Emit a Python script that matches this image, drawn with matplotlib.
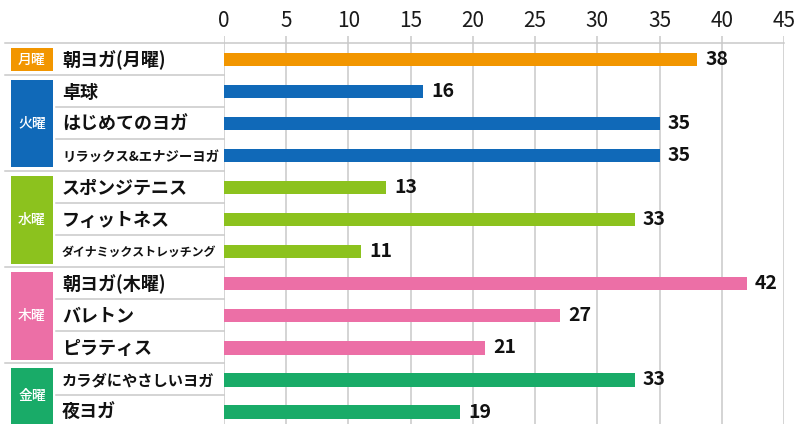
import matplotlib
matplotlib.use("Agg")
import matplotlib.pyplot as plt
import matplotlib.transforms as mtransforms
from matplotlib.patches import Rectangle
from matplotlib.lines import Line2D
import numpy as np

plt.rcParams['font.family'] = ['Noto Sans CJK JP', 'DejaVu Sans']

# ---- data ----
classes = ["朝ヨガ(月曜)", "卓球", "はじめてのヨガ", "リラックス&エナジーヨガ",
           "スポンジテニス", "フィットネス", "ダイナミックストレッチング",
           "朝ヨガ(木曜)", "バレトン", "ピラティス",
           "カラダにやさしいヨガ", "夜ヨガ"]
values = [38, 16, 35, 35, 13, 33, 11, 42, 27, 21, 33, 19]
days = ["月曜", "火曜", "水曜", "木曜", "金曜"]
day_counts = [1, 3, 3, 3, 2]
day_colors = ["#F29600", "#1069B8", "#8CC21E", "#EC6FA6", "#19AB68"]
xticks = [0, 5, 10, 15, 20, 25, 30, 35, 40, 45]
# label font sizes (long labels are condensed in the reference)
label_sizes = {"リラックス&エナジーヨガ": 9.6, "ダイナミックストレッチング": 8.6,
               "カラダにやさしいヨガ": 11.0}

W, H = 794, 424
fig = plt.figure(figsize=(W / 100, H / 100), dpi=100)
row_px = 32.05
top_px = 42.5
extra = 0.2
n = len(classes)
ax_top_px = top_px - extra * row_px
ax_h_px = (n + extra) * row_px
ax = fig.add_axes([224 / W, (H - ax_top_px - ax_h_px) / H, 560 / W, ax_h_px / H])
ax.set_xlim(0, 45)
ax.set_ylim(n, -extra)
for s in ax.spines.values():
    s.set_visible(False)
ax.set_yticks([])
ax.xaxis.tick_top()
ax.set_xticks(xticks)
ax.set_xticklabels([str(t) for t in xticks], fontsize=15, color="#1a1a1a")
ax.tick_params(axis='x', length=0, pad=3)

grid_c = "#c9c9c9"
ax.vlines(xticks, -extra, n, color=grid_c, lw=1.1, zorder=1)

# bar colours per row
row_colors = []
for c, k in zip(day_colors, day_counts):
    row_colors += [c] * k
ypos = np.arange(n) + 0.53
ax.barh(ypos, values, height=0.41, color=row_colors, zorder=3)
for y, v in zip(ypos, values):
    ax.annotate(str(v), (v, y), xytext=(6, 0), textcoords='offset points',
                va='center', ha='left', fontsize=14, fontweight='bold',
                color="#111111", zorder=4)

trans = mtransforms.blended_transform_factory(fig.transFigure, ax.transData)

# top line
fig.add_artist(Line2D([5 / W, 784 / W], [0, 0], transform=trans, color=grid_c, lw=1.1))
# separators
bounds = np.cumsum(day_counts)[:-1]
for i in range(1, n):
    x0 = 5 / W if i in bounds else 56 / W
    fig.add_artist(Line2D([x0, 224 / W], [i, i], transform=trans, color=grid_c, lw=1.1))

# day badges
start = 0
for d, k, c in zip(days, day_counts, day_colors):
    y0 = start + 0.17
    y1 = start + k - 0.1
    fig.add_artist(Rectangle((11 / W, y0), 42 / W, y1 - y0, transform=trans,
                             facecolor=c, edgecolor='none'))
    fig.text(32 / W, (y0 + y1) / 2, d, transform=trans, ha='center', va='center',
             color='white', fontsize=10, fontweight='medium')
    start += k

# class labels
for i, lab in enumerate(classes):
    fig.text(62 / W, i + 0.55, lab, transform=trans, ha='left', va='center',
             fontsize=label_sizes.get(lab, 13), fontweight='bold', color="#111111")

fig.savefig("out.png", dpi=100)
